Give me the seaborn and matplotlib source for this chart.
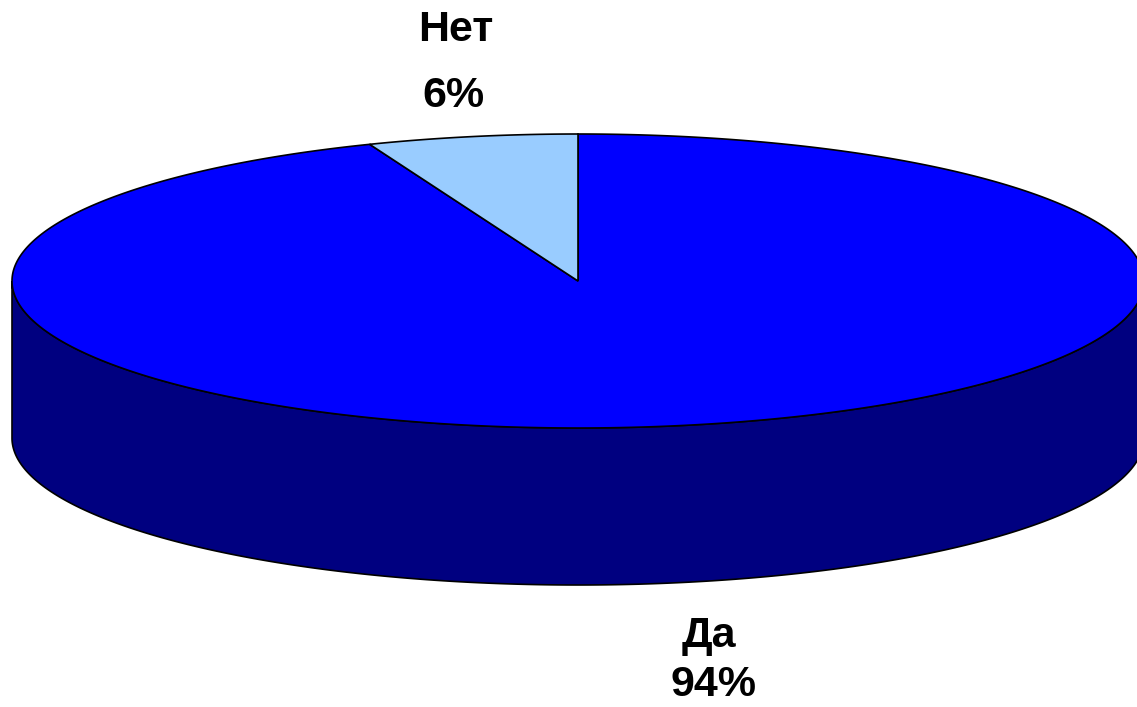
import numpy as np
import matplotlib
matplotlib.use("Agg")
import matplotlib.pyplot as plt
from matplotlib.patches import Polygon
import seaborn as sns

# Data
labels = ["Да", "Нет"]
values = [94, 6]
top_colors = ["#0000FF", "#99CCFF"]
side_colors = ["#000080", "#5C7A99"]

sns.set_theme(style="white")
plt.rcParams['font.family'] = ['Liberation Sans', 'DejaVu Sans']

W, H = 1137, 707
fig = plt.figure(figsize=(W / 100, H / 100), dpi=100)
ax = fig.add_axes([0, 0, 1, 1])
ax.set_xlim(0, W)
ax.set_ylim(H, 0)
ax.axis("off")

cx, cy, a, b, depth = 578, 281, 566, 147, 157


def pt(t, dy=0.0):
    return cx + a * np.cos(t), cy - b * np.sin(t) + dy


# Angles: "Нет" counterclockwise from 12 o'clock, "Да" takes the rest
total = sum(values)
net_span = 2 * np.pi * values[1] / total
spans = {"Нет": (np.pi / 2, np.pi / 2 + net_span),
         "Да": (np.pi / 2 + net_span, np.pi / 2 + 2 * np.pi)}

# Side wall (front half, visible part belongs to "Да")
t = np.linspace(np.pi, 2 * np.pi, 400)
xs, ys = pt(t)
xb, yb = pt(t[::-1], depth)
side = Polygon(np.column_stack([np.r_[xs, xb], np.r_[ys, yb]]), closed=True,
               facecolor=side_colors[0], edgecolor="black", lw=1.2, zorder=1)
ax.add_patch(side)

# Top wedges
for lab, col in zip(labels, top_colors):
    t0, t1 = spans[lab]
    tt = np.linspace(t0, t1, 600)
    x, y = pt(tt)
    poly = Polygon(np.column_stack([np.r_[cx, x], np.r_[cy, y]]), closed=True,
                   facecolor=col, edgecolor="black", lw=1.2, zorder=2)
    ax.add_patch(poly)

# Labels
fs = 31
ax.text(456, 30, f"{labels[1]}", ha="center", va="center", fontsize=fs,
        fontweight="bold", color="black")
ax.text(453, 96, f"{values[1]}%", ha="center", va="center", fontsize=fs,
        fontweight="bold", color="black")
ax.text(709, 636, f"{labels[0]}", ha="center", va="center", fontsize=fs,
        fontweight="bold", color="black")
ax.text(713, 685, f"{values[0]}%", ha="center", va="center", fontsize=fs,
        fontweight="bold", color="black")

fig.savefig("out.png", dpi=100, facecolor="white")
